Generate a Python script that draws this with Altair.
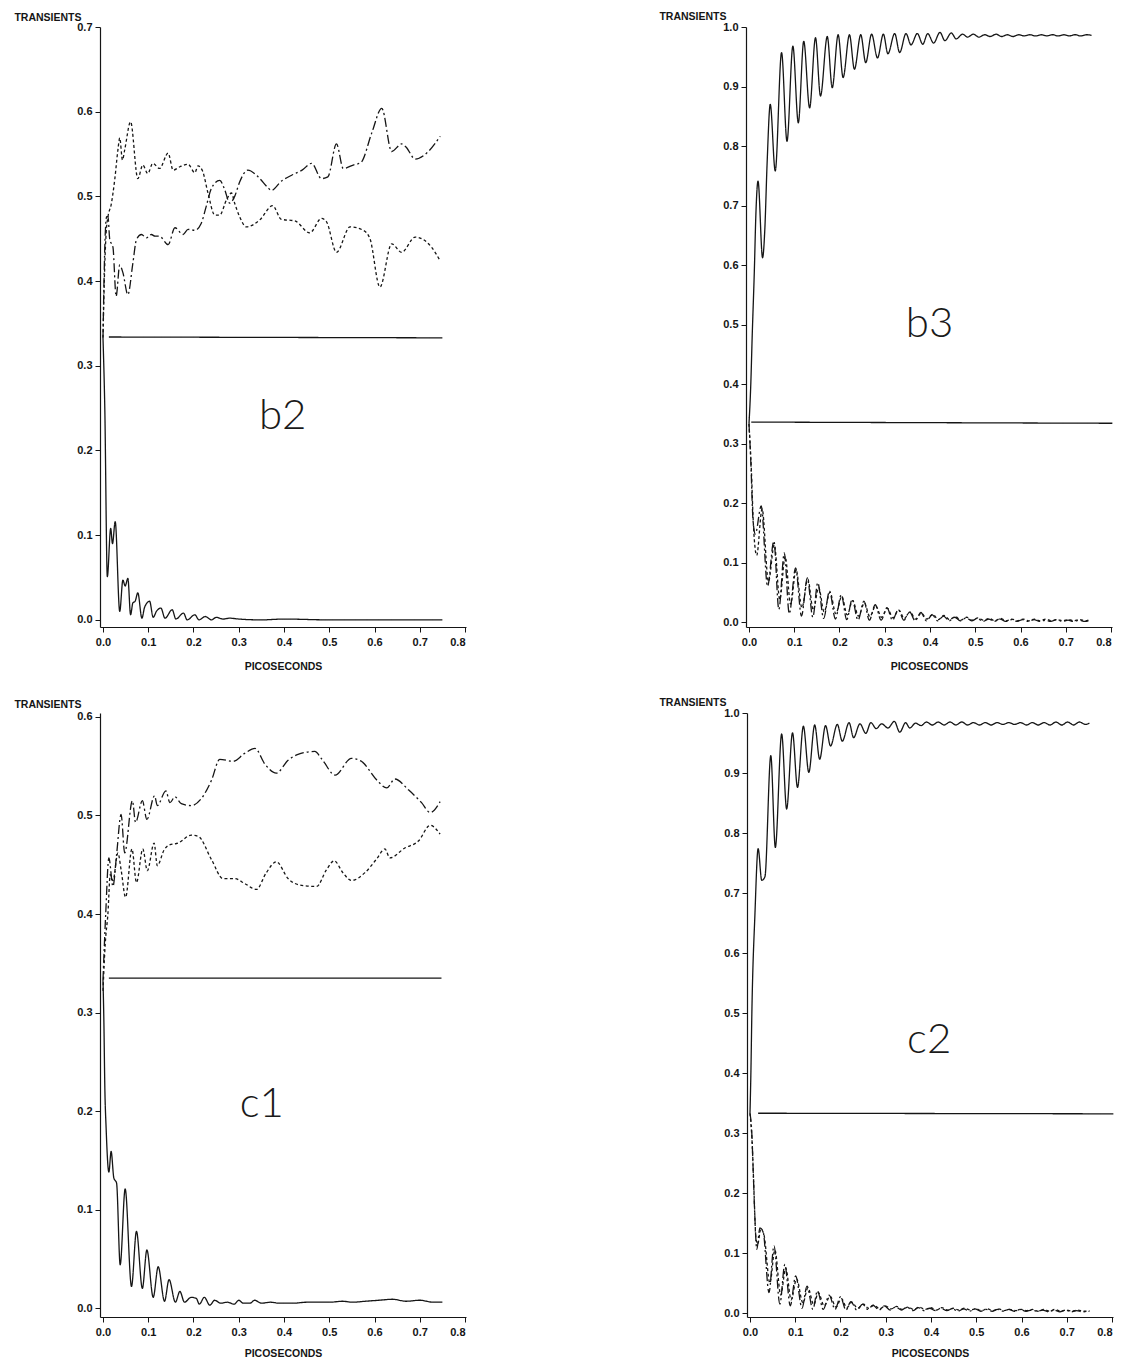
import altair as alt
import pandas as pd

# ---------------- data (t in ps, value) ----------------
X_TICKS = [0.0, 0.1, 0.2, 0.3, 0.4, 0.5, 0.6, 0.7, 0.8]
B2_Y_TICKS = [0.0, 0.1, 0.2, 0.3, 0.4, 0.5, 0.6, 0.7]
B3_Y_TICKS = [0.0, 0.1, 0.2, 0.3, 0.4, 0.5, 0.6, 0.7, 0.8, 0.9, 1.0]
C1_Y_TICKS = [0.0, 0.1, 0.2, 0.3, 0.4, 0.5, 0.6]
C2_Y_TICKS = [0.0, 0.1, 0.2, 0.3, 0.4, 0.5, 0.6, 0.7, 0.8, 0.9, 1.0]

PANEL_LABELS = ["b2", "b3", "c1", "c2"]
LABEL_T = [0.397, 0.399, 0.351, 0.396]
LABEL_V = [0.225, 0.479, 0.194, 0.434]

B2_FLAT = [(0.013, 0.334), (0.75, 0.333)]
B2_DECAY = [(0.0, 0.333), (0.004, 0.25), (0.0096, 0.051), (0.017, 0.108), (0.021, 0.09),
            (0.027, 0.116), (0.037, 0.01), (0.044, 0.047), (0.049, 0.04), (0.055, 0.049),
            (0.061, 0.006), (0.066, 0.02), (0.071, 0.022), (0.077, 0.032), (0.086, 0.002),
            (0.092, 0.015), (0.103, 0.022), (0.111, 0.003), (0.118, 0.01), (0.128, 0.014),
            (0.137, 0.002), (0.153, 0.012), (0.161, 0.001), (0.178, 0.008), (0.186, 0.0),
            (0.203, 0.006), (0.212, 0.0), (0.226, 0.004), (0.24, 0.0), (0.25, 0.003),
            (0.265, 0.001), (0.28, 0.002), (0.3, 0.001), (0.35, 0.0), (0.4, 0.001),
            (0.5, 0.0), (0.6, 0.0), (0.7, 0.0), (0.75, 0.0)]
B2_DASHDOT = [(0.0, 0.333), (0.004, 0.44), (0.008, 0.476), (0.011, 0.476), (0.015, 0.449),
              (0.022, 0.44), (0.029, 0.382), (0.037, 0.419), (0.044, 0.41), (0.055, 0.384),
              (0.066, 0.421), (0.074, 0.449), (0.085, 0.455), (0.096, 0.451), (0.107, 0.455),
              (0.115, 0.453), (0.125, 0.453), (0.144, 0.443), (0.159, 0.463), (0.177, 0.455),
              (0.188, 0.461), (0.203, 0.46), (0.217, 0.468), (0.228, 0.488), (0.24, 0.51),
              (0.258, 0.519), (0.269, 0.508), (0.28, 0.492), (0.291, 0.5), (0.302, 0.517),
              (0.32, 0.531), (0.343, 0.523), (0.365, 0.51), (0.372, 0.507), (0.394, 0.518),
              (0.417, 0.525), (0.44, 0.531), (0.461, 0.539), (0.483, 0.521), (0.497, 0.523),
              (0.516, 0.562), (0.531, 0.533), (0.553, 0.537), (0.57, 0.54), (0.594, 0.575),
              (0.616, 0.604), (0.638, 0.553), (0.66, 0.562), (0.67, 0.558), (0.69, 0.544),
              (0.719, 0.553), (0.745, 0.571)]
B2_DOT = [(0.0, 0.333), (0.004, 0.42), (0.007, 0.457), (0.011, 0.476), (0.018, 0.49),
          (0.026, 0.52), (0.033, 0.555), (0.037, 0.569), (0.043, 0.543), (0.048, 0.555),
          (0.061, 0.588), (0.077, 0.521), (0.088, 0.537), (0.099, 0.527), (0.11, 0.539),
          (0.125, 0.533), (0.144, 0.551), (0.155, 0.531), (0.17, 0.535), (0.188, 0.538),
          (0.203, 0.528), (0.21, 0.536), (0.22, 0.53), (0.232, 0.504), (0.247, 0.478),
          (0.258, 0.478), (0.273, 0.496), (0.284, 0.504), (0.291, 0.492), (0.302, 0.476),
          (0.317, 0.464), (0.346, 0.472), (0.375, 0.489), (0.394, 0.473), (0.424, 0.471),
          (0.457, 0.457), (0.483, 0.474), (0.494, 0.47), (0.516, 0.434), (0.546, 0.464),
          (0.575, 0.46), (0.59, 0.45), (0.612, 0.393), (0.638, 0.444), (0.66, 0.434),
          (0.69, 0.452), (0.726, 0.44), (0.745, 0.424)]

B3_FLAT = [(0.005, 0.336), (0.803, 0.334)]
B3_RISE = [(0.0, 0.333), (0.004, 0.40), (0.007, 0.478), (0.012, 0.595), (0.015, 0.68),
           (0.02, 0.741), (0.03, 0.612), (0.035, 0.66), (0.04, 0.77), (0.047, 0.870),
           (0.058, 0.758), (0.072, 0.957), (0.084, 0.808), (0.097, 0.968), (0.109, 0.839),
           (0.121, 0.976), (0.134, 0.864), (0.147, 0.982), (0.158, 0.884), (0.173, 0.984),
           (0.184, 0.898), (0.197, 0.987), (0.208, 0.915), (0.222, 0.987), (0.233, 0.929),
           (0.247, 0.987), (0.258, 0.94), (0.271, 0.988), (0.284, 0.948), (0.297, 0.988),
           (0.307, 0.955), (0.322, 0.989), (0.333, 0.957), (0.347, 0.989), (0.358, 0.970),
           (0.372, 0.989), (0.384, 0.971), (0.395, 0.989), (0.408, 0.973), (0.422, 0.991),
           (0.433, 0.977), (0.447, 0.99), (0.458, 0.98), (0.472, 0.988), (0.483, 0.983),
           (0.496, 0.988), (0.508, 0.983), (0.521, 0.987), (0.533, 0.984), (0.546, 0.988),
           (0.558, 0.984), (0.571, 0.987), (0.583, 0.984), (0.596, 0.987), (0.608, 0.985),
           (0.621, 0.987), (0.633, 0.985), (0.646, 0.987), (0.658, 0.985), (0.671, 0.987),
           (0.683, 0.985), (0.696, 0.987), (0.708, 0.985), (0.721, 0.987), (0.733, 0.985),
           (0.746, 0.987), (0.757, 0.986)]
B3_DASHDOT = [(0.0, 0.333), (0.004, 0.27), (0.009, 0.17), (0.014, 0.148), (0.027, 0.195),
              (0.041, 0.06), (0.055, 0.136), (0.066, 0.021), (0.078, 0.116), (0.089, 0.014),
              (0.103, 0.091), (0.116, 0.01), (0.129, 0.074), (0.141, 0.008), (0.152, 0.066),
              (0.165, 0.006), (0.178, 0.052), (0.191, 0.005), (0.204, 0.046), (0.216, 0.004),
              (0.228, 0.038), (0.241, 0.003), (0.254, 0.035), (0.266, 0.003), (0.279, 0.029),
              (0.292, 0.003), (0.305, 0.024), (0.317, 0.003), (0.33, 0.021), (0.342, 0.003),
              (0.355, 0.017), (0.367, 0.002), (0.38, 0.016), (0.392, 0.002), (0.405, 0.012),
              (0.417, 0.002), (0.43, 0.01), (0.442, 0.002), (0.455, 0.008), (0.467, 0.002),
              (0.48, 0.007), (0.492, 0.002), (0.505, 0.006), (0.517, 0.001), (0.53, 0.005),
              (0.542, 0.001), (0.555, 0.005), (0.567, 0.001), (0.58, 0.004), (0.592, 0.001),
              (0.605, 0.004), (0.617, 0.001), (0.63, 0.004), (0.642, 0.001), (0.655, 0.003),
              (0.667, 0.001), (0.68, 0.004), (0.692, 0.001), (0.705, 0.003), (0.717, 0.001),
              (0.73, 0.003), (0.742, 0.001), (0.75, 0.002)]
B3_DOT = [(0.0, 0.333), (0.005, 0.26), (0.01, 0.16), (0.017, 0.112), (0.029, 0.19),
          (0.043, 0.068), (0.056, 0.13), (0.068, 0.038), (0.08, 0.11), (0.092, 0.03),
          (0.104, 0.088), (0.117, 0.024), (0.13, 0.072), (0.142, 0.02), (0.154, 0.058),
          (0.166, 0.017), (0.179, 0.05), (0.192, 0.014), (0.205, 0.043), (0.217, 0.012),
          (0.229, 0.036), (0.242, 0.01), (0.255, 0.032), (0.267, 0.009), (0.28, 0.027),
          (0.293, 0.008), (0.306, 0.023), (0.318, 0.007), (0.331, 0.02), (0.343, 0.006),
          (0.356, 0.017), (0.368, 0.005), (0.381, 0.015), (0.393, 0.005), (0.406, 0.013),
          (0.418, 0.004), (0.431, 0.011), (0.443, 0.004), (0.456, 0.009), (0.468, 0.003),
          (0.481, 0.008), (0.493, 0.003), (0.506, 0.007), (0.518, 0.003), (0.531, 0.006),
          (0.543, 0.002), (0.556, 0.006), (0.568, 0.002), (0.581, 0.005), (0.593, 0.002),
          (0.606, 0.005), (0.618, 0.002), (0.631, 0.005), (0.643, 0.002), (0.656, 0.005),
          (0.668, 0.002), (0.681, 0.004), (0.693, 0.002), (0.706, 0.004), (0.718, 0.002),
          (0.731, 0.004), (0.743, 0.002), (0.75, 0.003)]

C1_FLAT = [(0.013, 0.335), (0.748, 0.335)]
C1_DASHDOT = [(0.0, 0.333), (0.006, 0.40), (0.013, 0.457), (0.022, 0.428), (0.03, 0.46),
              (0.04, 0.501), (0.048, 0.462), (0.065, 0.515), (0.072, 0.493), (0.087, 0.515),
              (0.097, 0.496), (0.114, 0.52), (0.12, 0.51), (0.139, 0.525), (0.148, 0.513),
              (0.159, 0.519), (0.173, 0.512), (0.195, 0.51), (0.217, 0.517), (0.24, 0.536),
              (0.258, 0.557), (0.288, 0.555), (0.313, 0.563), (0.336, 0.568), (0.358, 0.552),
              (0.383, 0.543), (0.409, 0.556), (0.431, 0.562), (0.468, 0.565), (0.484, 0.557),
              (0.513, 0.541), (0.549, 0.558), (0.571, 0.555), (0.605, 0.536), (0.627, 0.528),
              (0.645, 0.537), (0.675, 0.526), (0.704, 0.513), (0.723, 0.503), (0.745, 0.514)]
C1_DOT = [(0.0, 0.322), (0.005, 0.37), (0.011, 0.401), (0.016, 0.44), (0.022, 0.434),
          (0.033, 0.462), (0.04, 0.445), (0.05, 0.417), (0.064, 0.466), (0.074, 0.432),
          (0.088, 0.466), (0.098, 0.444), (0.113, 0.472), (0.12, 0.449), (0.135, 0.465),
          (0.146, 0.47), (0.166, 0.472), (0.195, 0.48), (0.21, 0.479), (0.24, 0.455),
          (0.265, 0.436), (0.291, 0.436), (0.313, 0.431), (0.339, 0.425), (0.361, 0.442),
          (0.383, 0.453), (0.409, 0.436), (0.439, 0.429), (0.472, 0.428), (0.494, 0.445),
          (0.511, 0.454), (0.53, 0.442), (0.549, 0.434), (0.579, 0.442), (0.605, 0.456),
          (0.623, 0.466), (0.634, 0.457), (0.667, 0.467), (0.697, 0.474), (0.723, 0.49),
          (0.745, 0.481)]
C1_DECAY = [(0.0, 0.333), (0.002, 0.29), (0.004, 0.226), (0.007, 0.182), (0.013, 0.138),
            (0.018, 0.159), (0.024, 0.132), (0.03, 0.127), (0.038, 0.044), (0.049, 0.121),
            (0.063, 0.022), (0.074, 0.078), (0.087, 0.02), (0.097, 0.059), (0.111, 0.011),
            (0.122, 0.042), (0.136, 0.007), (0.146, 0.029), (0.16, 0.006), (0.17, 0.017),
            (0.18, 0.006), (0.195, 0.011), (0.206, 0.01), (0.213, 0.004), (0.224, 0.011),
            (0.236, 0.003), (0.247, 0.008), (0.26, 0.005), (0.275, 0.006), (0.29, 0.004),
            (0.3, 0.008), (0.31, 0.005), (0.325, 0.005), (0.335, 0.008), (0.35, 0.005),
            (0.37, 0.006), (0.39, 0.005), (0.42, 0.005), (0.45, 0.006), (0.48, 0.006),
            (0.5, 0.006), (0.53, 0.007), (0.55, 0.006), (0.58, 0.007), (0.61, 0.008),
            (0.64, 0.009), (0.67, 0.007), (0.7, 0.008), (0.73, 0.006), (0.75, 0.006)]

C2_FLAT = [(0.018, 0.333), (0.803, 0.332)]
C2_RISE = [(0.0, 0.333), (0.002, 0.40), (0.004, 0.494), (0.011, 0.666), (0.018, 0.774),
           (0.026, 0.721), (0.033, 0.727), (0.046, 0.929), (0.056, 0.776), (0.07, 0.965),
           (0.081, 0.84), (0.094, 0.967), (0.105, 0.876), (0.118, 0.978), (0.13, 0.901),
           (0.143, 0.98), (0.154, 0.923), (0.167, 0.979), (0.178, 0.945), (0.193, 0.981),
           (0.204, 0.953), (0.219, 0.984), (0.229, 0.959), (0.243, 0.982), (0.256, 0.966),
           (0.267, 0.984), (0.279, 0.974), (0.291, 0.982), (0.305, 0.975), (0.319, 0.986),
           (0.331, 0.968), (0.344, 0.984), (0.353, 0.975), (0.366, 0.983), (0.378, 0.979),
           (0.39, 0.985), (0.403, 0.98), (0.416, 0.985), (0.429, 0.98), (0.442, 0.985),
           (0.455, 0.98), (0.468, 0.985), (0.481, 0.98), (0.494, 0.984), (0.507, 0.98),
           (0.52, 0.984), (0.533, 0.98), (0.546, 0.984), (0.559, 0.981), (0.572, 0.984),
           (0.585, 0.981), (0.598, 0.984), (0.611, 0.98), (0.624, 0.984), (0.637, 0.98),
           (0.65, 0.984), (0.663, 0.98), (0.676, 0.985), (0.689, 0.98), (0.702, 0.985),
           (0.715, 0.98), (0.728, 0.985), (0.741, 0.981), (0.75, 0.983)]
C2_DASHDOT = [(0.0, 0.333), (0.004, 0.30), (0.007, 0.239), (0.011, 0.156), (0.015, 0.106),
              (0.022, 0.142), (0.029, 0.136), (0.042, 0.034), (0.053, 0.112), (0.066, 0.015),
              (0.077, 0.081), (0.089, 0.012), (0.101, 0.062), (0.115, 0.008), (0.126, 0.045),
              (0.139, 0.006), (0.149, 0.037), (0.162, 0.006), (0.175, 0.03), (0.188, 0.006),
              (0.2, 0.027), (0.212, 0.005), (0.223, 0.019), (0.236, 0.005), (0.249, 0.015),
              (0.26, 0.006), (0.272, 0.013), (0.285, 0.005), (0.297, 0.012), (0.31, 0.005),
              (0.322, 0.01), (0.335, 0.005), (0.347, 0.01), (0.36, 0.004), (0.372, 0.009),
              (0.385, 0.004), (0.397, 0.008), (0.41, 0.004), (0.422, 0.008), (0.435, 0.004),
              (0.447, 0.007), (0.46, 0.003), (0.472, 0.007), (0.485, 0.003), (0.497, 0.007),
              (0.51, 0.003), (0.522, 0.006), (0.535, 0.003), (0.547, 0.006), (0.56, 0.003),
              (0.572, 0.006), (0.585, 0.003), (0.597, 0.006), (0.61, 0.003), (0.622, 0.005),
              (0.635, 0.003), (0.647, 0.005), (0.66, 0.002), (0.672, 0.005), (0.685, 0.002),
              (0.697, 0.005), (0.71, 0.002), (0.722, 0.004), (0.735, 0.002), (0.75, 0.003)]
C2_DOT = [(0.0, 0.333), (0.005, 0.28), (0.009, 0.2), (0.013, 0.125), (0.017, 0.115),
          (0.024, 0.14), (0.031, 0.13), (0.044, 0.05), (0.055, 0.105), (0.068, 0.03),
          (0.079, 0.075), (0.091, 0.022), (0.103, 0.057), (0.117, 0.017), (0.128, 0.042),
          (0.141, 0.014), (0.151, 0.034), (0.164, 0.012), (0.177, 0.028), (0.19, 0.01),
          (0.202, 0.024), (0.214, 0.009), (0.225, 0.018), (0.238, 0.008), (0.251, 0.015),
          (0.262, 0.008), (0.274, 0.013), (0.287, 0.007), (0.299, 0.012), (0.312, 0.007),
          (0.324, 0.011), (0.337, 0.006), (0.349, 0.01), (0.362, 0.006), (0.374, 0.01),
          (0.387, 0.006), (0.399, 0.009), (0.412, 0.005), (0.424, 0.009), (0.437, 0.005),
          (0.449, 0.008), (0.462, 0.005), (0.474, 0.008), (0.487, 0.005), (0.499, 0.007),
          (0.512, 0.004), (0.524, 0.007), (0.537, 0.004), (0.549, 0.007), (0.562, 0.004),
          (0.574, 0.006), (0.587, 0.004), (0.599, 0.006), (0.612, 0.004), (0.624, 0.006),
          (0.637, 0.003), (0.649, 0.006), (0.662, 0.003), (0.674, 0.006), (0.687, 0.003),
          (0.699, 0.005), (0.712, 0.003), (0.724, 0.005), (0.737, 0.003), (0.75, 0.004)]

# ---------------- styling ----------------
XDOM = [-0.0066, 0.8022]
W = 366
H_TOP = 600
H_BOT = 604
FONT = "Liberation Sans"
STYLE_DOMAIN = ["solid", "dashdot", "dot"]
STYLE_RANGE = [[1, 0], [9, 3, 2, 3], [3, 2.5]]


def panel(series, ydom, yticks, idx, height, title_x, title_y, title_pad):
    rows = []
    for name, style, pts in series:
        for t, v in pts:
            rows.append({"series": name, "style": style, "t": t, "v": v})
    df = pd.DataFrame(rows)
    x = alt.X("t:Q", scale=alt.Scale(domain=XDOM, nice=False, zero=False),
              axis=alt.Axis(values=X_TICKS, format=".1f", title="PICOSECONDS",
                            titlePadding=title_pad, labelPadding=4))
    y = alt.Y("v:Q", scale=alt.Scale(domain=ydom, nice=False, zero=False),
              axis=alt.Axis(values=yticks, format=".1f", title="TRANSIENTS",
                            titleAngle=0, titleAlign="right", titleBaseline="middle",
                            titleX=title_x, titleY=title_y, labelPadding=3))
    lines = alt.Chart(df).mark_line(
        interpolate="monotone", color="#151515", strokeWidth=1.3
    ).encode(
        x=x, y=y,
        strokeDash=alt.StrokeDash("style:N", scale=alt.Scale(domain=STYLE_DOMAIN, range=STYLE_RANGE),
                                  legend=None),
        detail="series:N",
    )
    lab = pd.DataFrame({"t": [LABEL_T[idx]], "v": [LABEL_V[idx]], "label": [PANEL_LABELS[idx]]})
    text = alt.Chart(lab).mark_text(
        font="Lato", fontSize=42, fontWeight=300, align="center", baseline="alphabetic",
        color="#1a1a1a"
    ).encode(x="t:Q", y="v:Q", text="label:N")
    return alt.layer(lines, text).properties(width=W, height=height)


b2 = panel([("flat", "solid", B2_FLAT), ("decay", "solid", B2_DECAY),
            ("dashdot", "dashdot", B2_DASHDOT), ("dot", "dot", B2_DOT)],
           [-0.0084, 0.7], B2_Y_TICKS, 0, H_TOP, -19, -10, 14)
b3 = panel([("flat", "solid", B3_FLAT), ("rise", "solid", B3_RISE),
            ("dashdot", "dashdot", B3_DASHDOT), ("dot", "dot", B3_DOT)],
           [-0.0084, 1.0], B3_Y_TICKS, 1, H_TOP, -20, -11, 14)
c1 = panel([("flat", "solid", C1_FLAT), ("decay", "solid", C1_DECAY),
            ("dashdot", "dashdot", C1_DASHDOT), ("dot", "dot", C1_DOT)],
           [-0.009, 0.604], C1_Y_TICKS, 2, H_BOT, -19, -9, 11)
c2 = panel([("flat", "solid", C2_FLAT), ("rise", "solid", C2_RISE),
            ("dashdot", "dashdot", C2_DASHDOT), ("dot", "dot", C2_DOT)],
           [-0.0066, 1.0], C2_Y_TICKS, 3, H_BOT, -21, -11, 11)

top = alt.hconcat(b2, b3, spacing=192)
bottom = alt.hconcat(c1, c2, spacing=192)

chart = alt.vconcat(top, bottom, spacing=25).properties(
    padding={"left": 5, "top": 3, "right": 0, "bottom": 0},
    background="white",
).configure_view(strokeWidth=0).configure_axis(
    grid=False,
    domainColor="#151515", domainWidth=1.2,
    tickColor="#151515", tickSize=5, tickWidth=1,
    labelFont=FONT, labelFontSize=11, labelFontWeight="bold", labelColor="#151515",
    titleFont=FONT, titleFontSize=10.5, titleFontWeight="bold", titleColor="#151515",
)

chart.save("out.html", embed_options={"renderer": "svg", "actions": False})
